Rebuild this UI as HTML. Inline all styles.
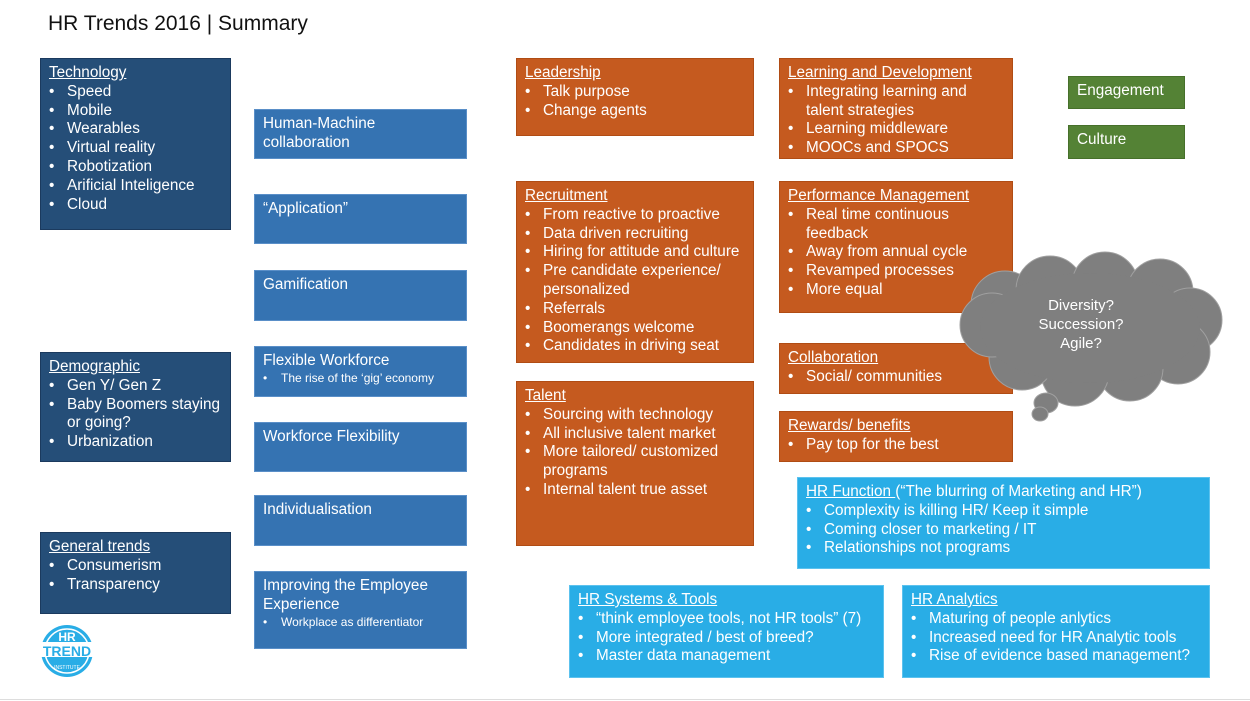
<!DOCTYPE html>
<html><head><meta charset="utf-8"><style>
body{margin:0;width:1250px;height:701px;background:#fff;position:relative;overflow:hidden;font-family:"Liberation Sans",Arial,sans-serif;}
.b{position:absolute;box-sizing:border-box;color:#fff;font-size:15.3px;line-height:18.8px;padding:5px 8px 4px 8px;}
.n{background:#254e78;border:1px solid #1b3a5e;}
.m{background:#3573b2;border:1px solid #5a8fc8;}
.o{background:#c55a1f;border:1px solid #b04c14;}
.g{background:#548235;border:1px solid #46702a;}
.l{background:#29ade6;border:1px solid #5cc2ee;}
.b u{text-decoration:underline;}
ul{margin:0;padding:0;list-style:none;}
li{position:relative;padding-left:18px;}
li:before{content:"•";position:absolute;left:0;}
.s{font-size:12px;line-height:15px;}
.s li{padding-left:18px;}
h1{position:absolute;left:48px;top:12px;margin:0;font-weight:normal;font-size:21px;color:#111;font-family:"Liberation Sans",Arial,sans-serif;}
</style></head><body>
<h1>HR Trends 2016 | Summary</h1>

<div class="b n" style="left:40px;top:58px;width:191px;height:172px"><u>Technology</u><ul><li>Speed</li><li>Mobile</li><li>Wearables</li><li>Virtual reality</li><li>Robotization</li><li>Arificial Inteligence</li><li>Cloud</li></ul></div>
<div class="b n" style="left:40px;top:352px;width:191px;height:110px"><u>Demographic</u><ul><li>Gen Y/ Gen Z</li><li>Baby Boomers staying or going?</li><li>Urbanization</li></ul></div>
<div class="b n" style="left:40px;top:532px;width:191px;height:82px"><u>General trends</u><ul><li>Consumerism</li><li>Transparency</li></ul></div>

<div class="b m" style="left:254px;top:109px;width:213px;height:50px">Human-Machine<br>collaboration</div>
<div class="b m" style="left:254px;top:194px;width:213px;height:50px">“Application”</div>
<div class="b m" style="left:254px;top:270px;width:213px;height:51px">Gamification</div>
<div class="b m" style="left:254px;top:346px;width:213px;height:51px">Flexible Workforce<ul class="s"><li>The rise of the ‘gig’ economy</li></ul></div>
<div class="b m" style="left:254px;top:422px;width:213px;height:50px">Workforce Flexibility</div>
<div class="b m" style="left:254px;top:495px;width:213px;height:51px">Individualisation</div>
<div class="b m" style="left:254px;top:571px;width:213px;height:78px">Improving the Employee Experience<ul class="s"><li>Workplace as differentiator</li></ul></div>

<div class="b o" style="left:516px;top:58px;width:238px;height:78px"><u>Leadership</u><ul><li>Talk purpose</li><li>Change agents</li></ul></div>
<div class="b o" style="left:516px;top:181px;width:238px;height:182px"><u>Recruitment</u><ul><li>From reactive to proactive</li><li>Data driven recruiting</li><li>Hiring for attitude and culture</li><li>Pre candidate experience/<br>personalized</li><li>Referrals</li><li>Boomerangs welcome</li><li>Candidates in driving seat</li></ul></div>
<div class="b o" style="left:516px;top:381px;width:238px;height:165px"><u>Talent</u><ul><li>Sourcing with technology</li><li>All inclusive talent market</li><li>More tailored/ customized<br>programs</li><li>Internal talent true asset</li></ul></div>
<div class="b o" style="left:779px;top:58px;width:234px;height:101px"><u>Learning and Development</u><ul><li>Integrating learning and<br>talent strategies</li><li>Learning middleware</li><li>MOOCs and SPOCS</li></ul></div>
<div class="b o" style="left:779px;top:181px;width:234px;height:132px"><u>Performance Management</u><ul><li>Real time continuous<br>feedback</li><li>Away from annual cycle</li><li>Revamped processes</li><li>More equal</li></ul></div>
<div class="b o" style="left:779px;top:343px;width:234px;height:51px"><u>Collaboration</u><ul><li>Social/ communities</li></ul></div>
<div class="b o" style="left:779px;top:411px;width:234px;height:51px"><u>Rewards/ benefits</u><ul><li>Pay top for the best</li></ul></div>

<div class="b g" style="left:1068px;top:76px;width:117px;height:33px">Engagement</div>
<div class="b g" style="left:1068px;top:125px;width:117px;height:34px">Culture</div>

<div class="b l" style="left:797px;top:477px;width:413px;height:92px"><u>HR Function </u>(“The blurring of Marketing and HR”)<ul><li>Complexity is killing HR/ Keep it simple</li><li>Coming closer to marketing / IT</li><li>Relationships not programs</li></ul></div>
<div class="b l" style="left:569px;top:585px;width:315px;height:93px"><u>HR Systems &amp; Tools</u><ul><li>“think employee tools, not HR tools” (7)</li><li>More integrated / best of breed?</li><li>Master data management</li></ul></div>
<div class="b l" style="left:902px;top:585px;width:308px;height:93px"><u>HR Analytics</u><ul><li>Maturing of people anlytics</li><li>Increased need for HR Analytic tools</li><li>Rise of evidence based management?</li></ul></div>

<svg style="position:absolute;left:0;top:0" width="1250" height="701">
<g fill="#7f7f7f" stroke="#a0a0a0" stroke-width="1">
<circle cx="1005" cy="305" r="34"/><circle cx="1050" cy="290" r="34"/><circle cx="1105" cy="285" r="33"/><circle cx="1160" cy="292" r="33"/><circle cx="1190" cy="320" r="32"/><circle cx="1178" cy="352" r="32"/><circle cx="1130" cy="368" r="33"/><circle cx="1075" cy="372" r="34"/><circle cx="1022" cy="357" r="33"/><circle cx="992" cy="325" r="32"/>
<ellipse cx="1046" cy="403" rx="12" ry="10"/><ellipse cx="1040" cy="414" rx="8" ry="7"/>
</g>
<g fill="#7f7f7f"><ellipse cx="1090" cy="328" rx="110" ry="55"/></g>
<text x="1081" y="310" fill="#fff" font-size="15" text-anchor="middle" font-family="Liberation Sans, sans-serif">Diversity?</text>
<text x="1081" y="329" fill="#fff" font-size="15" text-anchor="middle" font-family="Liberation Sans, sans-serif">Succession?</text>
<text x="1081" y="348" fill="#fff" font-size="15" text-anchor="middle" font-family="Liberation Sans, sans-serif">Agile?</text>
<g>
<circle cx="67" cy="651" r="26" fill="#29ade6"/>
<circle cx="67" cy="651" r="22" fill="none" stroke="#fff" stroke-width="1.5"/>
<rect x="38" y="642" width="58" height="15" fill="#fff"/>
<text x="67" y="641" fill="#fff" font-size="12" font-weight="bold" text-anchor="middle" font-family="Liberation Sans, sans-serif">HR</text>
<text x="67" y="656" fill="#29ade6" font-size="14" font-weight="bold" text-anchor="middle" font-family="Liberation Sans, sans-serif">TREND</text>
<text x="67" y="669" fill="#fff" font-size="5" text-anchor="middle" font-family="Liberation Sans, sans-serif">INSTITUTE</text>
</g>
<line x1="0" y1="699.5" x2="1250" y2="699.5" stroke="#ddd" stroke-width="1"/>
</svg>
</body></html>
